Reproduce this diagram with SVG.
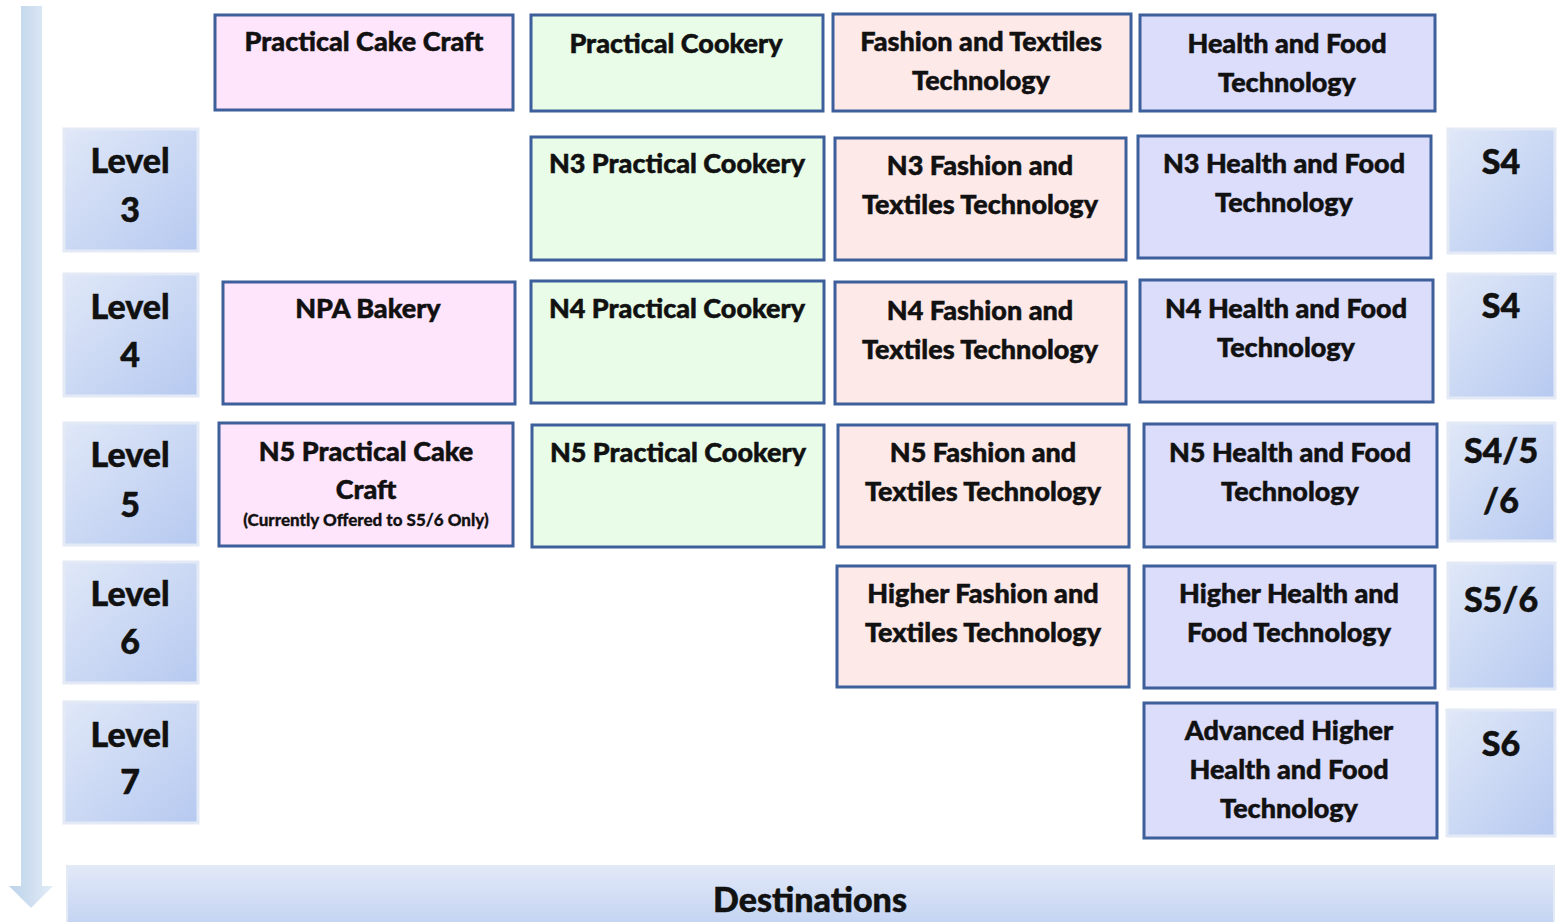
<svg xmlns="http://www.w3.org/2000/svg" width="1563" height="922" viewBox="0 0 1563 922">
<defs>
<linearGradient id="gLevel" x1="0" y1="0" x2="1" y2="1">
<stop offset="0" stop-color="#e0e8f8"/>
<stop offset="1" stop-color="#b6c9f0"/>
</linearGradient>
<linearGradient id="gArrow" x1="0" y1="0" x2="1" y2="0">
<stop offset="0" stop-color="#bcd2ea"/>
<stop offset="1" stop-color="#e2ecf7"/>
</linearGradient>
<linearGradient id="gDest" x1="0" y1="0" x2="0" y2="1">
<stop offset="0" stop-color="#e2e9f8"/>
<stop offset="1" stop-color="#c3d3f2"/>
</linearGradient>
<style>
.c{stroke:#3d5f9b;stroke-width:3}
.pink{fill:#ffe5fb}
.green{fill:#e9fce8}
.salmon{fill:#fde9e8}
.lav{fill:#dcdcfb}
.lv{fill:url(#gLevel);stroke:#e3eaf6;stroke-width:3}
text{font-family:Lato,"Open Sans","Liberation Sans",sans-serif;font-weight:900;fill:#111;stroke:#111;stroke-width:0.5;text-anchor:middle}
.t{font-size:27px}
.s{font-size:17px;stroke-width:0.3}
.L{font-size:34px}
</style>
</defs>
<g id="arrow">
<path d="M21,6 H42 V886 H53 L31,908 L9,886 H21 Z" fill="url(#gArrow)"/>
</g>
<g id="destinations">
<rect x="67" y="866" width="1487" height="60" fill="url(#gDest)" stroke="#e3eaf6" stroke-width="2"/>
<text class="L" x="810" y="912">Destinations</text>
</g>
<g id="levels">
<g id="level3"><rect class="lv" x="64" y="129" width="134" height="122"/><text class="L" x="130" y="173">Level</text><text class="L" x="130" y="222">3</text></g>
<g id="level4"><rect class="lv" x="64" y="274" width="134" height="122"/><text class="L" x="130" y="319">Level</text><text class="L" x="130" y="367">4</text></g>
<g id="level5"><rect class="lv" x="64" y="423" width="134" height="122"/><text class="L" x="130" y="467">Level</text><text class="L" x="130" y="517">5</text></g>
<g id="level6"><rect class="lv" x="64" y="562" width="134" height="121"/><text class="L" x="130" y="606">Level</text><text class="L" x="130" y="654">6</text></g>
<g id="level7"><rect class="lv" x="64" y="702" width="134" height="121"/><text class="L" x="130" y="747">Level</text><text class="L" x="130" y="794">7</text></g>
</g>
<g id="stages">
<g id="s4a"><rect class="lv" x="1448" y="129" width="107" height="124"/><text class="L" x="1501" y="174">S4</text></g>
<g id="s4b"><rect class="lv" x="1448" y="274" width="107" height="124"/><text class="L" x="1501" y="318">S4</text></g>
<g id="s456"><rect class="lv" x="1448" y="423" width="107" height="118"/><text class="L" x="1501" y="463">S4/5</text><text class="L" x="1501" y="513">/6</text></g>
<g id="s56"><rect class="lv" x="1448" y="563" width="107" height="126"/><text class="L" x="1501" y="612">S5/6</text></g>
<g id="s6"><rect class="lv" x="1447" y="710" width="108" height="126"/><text class="L" x="1501" y="756">S6</text></g>
</g>
<g id="col-cake">
<g id="practical-cake-craft"><rect class="c pink" x="215" y="15" width="298" height="95"/><text class="t" x="364" y="51">Practical Cake Craft</text></g>
<g id="npa-bakery"><rect class="c pink" x="223" y="282" width="292" height="122"/><text class="t" x="368" y="318">NPA Bakery</text></g>
<g id="n5-cake"><rect class="c pink" x="219" y="423" width="294" height="123"/><text class="t" x="366" y="461">N5 Practical Cake</text><text class="t" x="366" y="499">Craft</text><text class="s" x="366" y="526">(Currently Offered to S5/6 Only)</text></g>
</g>
<g id="col-cookery">
<g id="practical-cookery"><rect class="c green" x="531" y="15" width="292" height="96"/><text class="t" x="676" y="53">Practical Cookery</text></g>
<g id="n3-cookery"><rect class="c green" x="531" y="137" width="293" height="123"/><text class="t" x="677" y="173">N3 Practical Cookery</text></g>
<g id="n4-cookery"><rect class="c green" x="531" y="281" width="293" height="122"/><text class="t" x="677" y="318">N4 Practical Cookery</text></g>
<g id="n5-cookery"><rect class="c green" x="532" y="425" width="292" height="122"/><text class="t" x="678" y="462">N5 Practical Cookery</text></g>
</g>
<g id="col-fashion">
<g id="fashion"><rect class="c salmon" x="833" y="14" width="298" height="97"/><text class="t" x="981" y="51">Fashion and Textiles</text><text class="t" x="981" y="90">Technology</text></g>
<g id="n3-fashion"><rect class="c salmon" x="835" y="138" width="291" height="122"/><text class="t" x="980" y="175">N3 Fashion and</text><text class="t" x="980" y="214">Textiles Technology</text></g>
<g id="n4-fashion"><rect class="c salmon" x="835" y="282" width="291" height="122"/><text class="t" x="980" y="320">N4 Fashion and</text><text class="t" x="980" y="359">Textiles Technology</text></g>
<g id="n5-fashion"><rect class="c salmon" x="838" y="425" width="291" height="122"/><text class="t" x="983" y="462">N5 Fashion and</text><text class="t" x="983" y="501">Textiles Technology</text></g>
<g id="higher-fashion"><rect class="c salmon" x="837" y="566" width="292" height="121"/><text class="t" x="983" y="603">Higher Fashion and</text><text class="t" x="983" y="642">Textiles Technology</text></g>
</g>
<g id="col-health">
<g id="health"><rect class="c lav" x="1140" y="15" width="295" height="96"/><text class="t" x="1287" y="53">Health and Food</text><text class="t" x="1287" y="92">Technology</text></g>
<g id="n3-health"><rect class="c lav" x="1138" y="136" width="293" height="122"/><text class="t" x="1284" y="173">N3 Health and Food</text><text class="t" x="1284" y="212">Technology</text></g>
<g id="n4-health"><rect class="c lav" x="1140" y="280" width="293" height="122"/><text class="t" x="1286" y="318">N4 Health and Food</text><text class="t" x="1286" y="357">Technology</text></g>
<g id="n5-health"><rect class="c lav" x="1144" y="424" width="293" height="123"/><text class="t" x="1290" y="462">N5 Health and Food</text><text class="t" x="1290" y="501">Technology</text></g>
<g id="higher-health"><rect class="c lav" x="1144" y="566" width="291" height="122"/><text class="t" x="1289" y="603">Higher Health and</text><text class="t" x="1289" y="642">Food Technology</text></g>
<g id="ah-health"><rect class="c lav" x="1144" y="703" width="293" height="135"/><text class="t" x="1289" y="740">Advanced Higher</text><text class="t" x="1289" y="779">Health and Food</text><text class="t" x="1289" y="818">Technology</text></g>
</g>
<g id="connectors"/>
</svg>
